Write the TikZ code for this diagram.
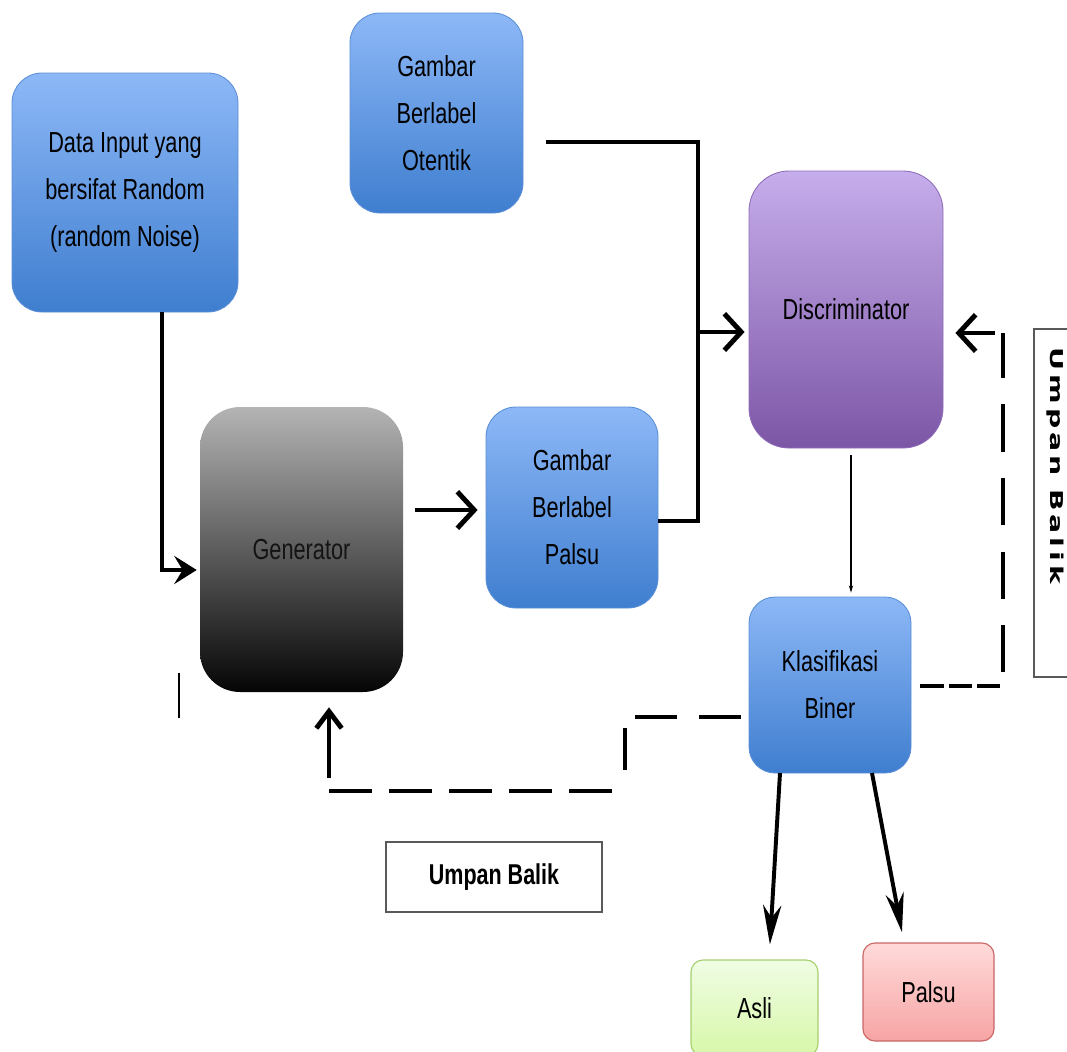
\documentclass[tikz,border=0pt]{standalone}
\usepackage{fontspec}
\setmainfont{Liberation Sans}[FakeStretch=0.75]
\newfontfamily\sidefont{DejaVu Sans}[FakeStretch=1.6,LetterSpace=22]
\usetikzlibrary{arrows.meta}
\definecolor{bluetop}{HTML}{8DB8F7}
\definecolor{bluebot}{HTML}{3F7ECF}
\definecolor{blueedge}{HTML}{5A8ED6}
\definecolor{purtop}{HTML}{C6ADEB}
\definecolor{purbot}{HTML}{7C56A6}
\definecolor{puredge}{HTML}{8E6CB8}
\definecolor{gentop}{HTML}{B4B4B4}
\definecolor{genbot}{HTML}{050505}
\definecolor{asltop}{HTML}{F0FDE4}
\definecolor{aslbot}{HTML}{D7F7A9}
\definecolor{asledge}{HTML}{A6CF6E}
\definecolor{paltop}{HTML}{FFDADA}
\definecolor{palbot}{HTML}{F7A4A4}
\definecolor{paledge}{HTML}{C96565}

\begin{document}
\begin{tikzpicture}[x=0.025cm,y=-0.025cm,
  sz/.style 2 args={minimum width=#1*0.025cm,minimum height=#2*0.025cm},
  box/.style={inner sep=0pt,align=center,text=black,font=\fontsize{20.6pt}{33.4pt}\selectfont},
  bluebox/.style={box,rounded corners=0.75cm,draw=blueedge,line width=0.6pt,top color=bluetop,bottom color=bluebot},
  genbox/.style={box,rounded corners=1cm,top color=gentop,bottom color=genbot},
  discbox/.style={box,rounded corners=1cm,draw=puredge,line width=0.6pt,top color=purtop,bottom color=purbot},
  aslibox/.style={box,rounded corners=0.3cm,draw=asledge,line width=0.8pt,top color=asltop,bottom color=aslbot},
  palsubox/.style={box,rounded corners=0.3cm,draw=paledge,line width=0.8pt,top color=paltop,bottom color=palbot},
  notebox/.style={box,draw=black!65,line width=1pt,font=\fontsize{20.4pt}{26pt}\selectfont\bfseries},
  bigarrow/.style={line width=3.5pt,-{Straight Barb[length=12pt,width=26pt]}},
  uparrow/.style={line width=3.5pt,-{Straight Barb[length=12pt,width=18pt]}},
  inarrow/.style={line width=2.4pt,-{Stealth[length=16pt,width=20pt,inset=6pt]}},
  outarrow/.style={line width=2.8pt,-{Stealth[length=28pt,width=13pt,inset=9pt]}},
  joinline/.style={line width=2.8pt},
  fbline/.style={line width=3.5pt}]
\useasboundingbox (0,0) rectangle (1067,1052);
\clip (0,0) rectangle (1067,1052);
            % Boxes
\node[bluebox,sz={226}{239}] (data) at (125,192.5) {Data Input yang\\bersifat Random\\(random Noise)};
\node[bluebox,sz={173}{200}] (real) at (436.5,113) {Gambar\\Berlabel\\Otentik};
\node[genbox,sz={203}{285},text=black!92] (gen) at (301.5,549.5) {Generator};
\node[bluebox,sz={172}{201}] (fake) at (572,507.5) {Gambar\\Berlabel\\Palsu};
\node[discbox,sz={194}{277}] (disc) at (846,309.5) {Discriminator};
\node[bluebox,rounded corners=0.65cm,sz={162}{176}] (klas) at (830,685) {Klasifikasi\\Biner};
\node[aslibox,sz={127}{96}] (asli) at (754.5,1008) {Asli};
\node[palsubox,sz={131}{98}] (palsu) at (928.5,992) {Palsu};
\node[notebox,sz={216}{70}] (fbbottom) at (494,877) {Umpan Balik};
\node[draw=black!65,line width=1pt,sz={46}{348}] (fbright) at (1057,503) {};
\node[rotate=-90,inner sep=0pt,font=\sidefont\bfseries\fontsize{12.6pt}{14pt}\selectfont] (fbtext) at (1055,466) {Umpan Balik};
            % Junctions
\coordinate (d1) at (162,312);
\coordinate (d2) at (162,570);
\coordinate (g1) at (415,510);
\coordinate (j1) at (698,142);
\coordinate (j2) at (698,521);
\coordinate (j3) at (698,332);
\coordinate (k1) at (851,455);
\coordinate (a1) at (780,773);
\coordinate (a2) at (769,945);
\coordinate (p1) at (872,773);
\coordinate (p2) at (904,943);
\coordinate (r1) at (1003,686);
\coordinate (r2) at (1003,333);
\coordinate (b1) at (625,717);
\coordinate (b2) at (625,791);
\coordinate (b3) at (329,791);
\coordinate (b4) at (329,778);
            % Connections
\draw[inarrow,shorten >=0.075cm] (d1) -- (d2) -- (gen.west |- d2);
\draw[bigarrow,shorten >=0.2cm] (g1) -- (fake.west |- g1);
\draw[joinline,shorten <=0.575cm] (real.east |- j1) -- (j1) -- (j2) -- (fake.east |- j2);
\draw[bigarrow,shorten >=0.1cm] (j3) -- (disc.west |- j3);
\draw[line width=0.8pt,-{Stealth[length=5pt,width=3pt]},shorten >=0.1cm] (k1) -- (klas.north -| k1);
\draw[outarrow,shorten >=0.375cm] (a1) -- (asli.north -| a2);
\draw[outarrow,shorten >=0.275cm] (p1) -- (p2);
            % Feedback
\draw[fbline,shorten <=0.225cm,dash pattern=on 0.58cm off 0.13cm] (klas.east |- r1) -- (r1);
\draw[fbline,dash pattern=on 1.18cm off 0.66cm,dash phase=1.5cm] (r1) -- (r2);
\draw[bigarrow,shorten <=0.2cm,shorten >=0.3cm] (r2) -- (disc.east |- r2);
\draw[fbline,shorten <=0.2cm,dash pattern=on 1.05cm off 0.53cm] (klas.west |- b1) -- (b1) -- (b2);
\draw[fbline,dash pattern=on 1.075cm off 0.425cm,dash phase=1.175cm] (b2) -- (b3);
\draw[uparrow,shorten >=0.375cm] (b4) -- (gen.south -| b4);
\draw[line width=1.2pt] (179,673) -- (179,718);%tick
\end{tikzpicture}
\end{document}
